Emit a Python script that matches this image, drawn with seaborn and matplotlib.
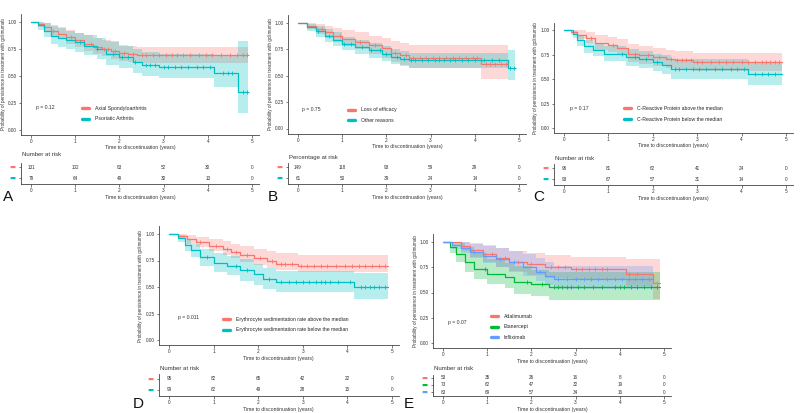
import numpy as np
import matplotlib
matplotlib.use("Agg")
import matplotlib.pyplot as plt
from matplotlib.lines import Line2D
import seaborn as sns

# ---- data ----
x_ticks = [0, 1, 2, 3, 4, 5]
y_ticks = [0.0, 0.25, 0.5, 0.75, 1.0]
y_ticklabels = ["0.00", "0.25", "0.50", "0.75", "1.00"]

RED = "#F8766D"
CYAN = "#00BFC4"
GREEN = "#00BA38"
BLUE = "#619CFF"

# A: Axial spondyloarthritis vs psoriatic arthritis
axial_t = [0, 0.15, 0.3, 0.45, 0.6, 0.8, 1.0, 1.2, 1.4, 1.6, 1.8, 2.0, 2.2, 2.4, 4.9]
axial_s = [1.0, 0.98, 0.95, 0.92, 0.89, 0.86, 0.83, 0.80, 0.77, 0.75, 0.73, 0.71, 0.70, 0.69, 0.69]
axial_lo = [1.0, 0.95, 0.91, 0.87, 0.84, 0.80, 0.77, 0.73, 0.70, 0.68, 0.66, 0.64, 0.63, 0.62, 0.62]
axial_hi = [1.0, 1.0, 0.99, 0.97, 0.95, 0.93, 0.90, 0.88, 0.85, 0.83, 0.81, 0.79, 0.78, 0.77, 0.77]
axial_cens = [0.5, 0.9, 1.35, 1.65, 1.75, 1.9, 2.1, 2.3, 2.5, 2.6, 2.75, 2.9, 3.05, 3.2,
              3.3, 3.45, 3.6, 3.8, 3.95, 4.1, 4.3, 4.5, 4.65, 4.8, 4.88]
psa_t = [0, 0.15, 0.3, 0.45, 0.6, 0.8, 1.0, 1.2, 1.5, 1.7, 2.0, 2.3, 2.5, 2.9, 4.15, 4.68, 4.9]
psa_s = [1.0, 0.97, 0.92, 0.87, 0.85, 0.83, 0.81, 0.78, 0.75, 0.70, 0.67, 0.63, 0.60, 0.58, 0.53, 0.35, 0.35]
psa_lo = [1.0, 0.93, 0.86, 0.80, 0.77, 0.75, 0.72, 0.69, 0.66, 0.60, 0.57, 0.53, 0.50, 0.48, 0.40, 0.15, 0.15]
psa_hi = [1.0, 1.0, 0.99, 0.96, 0.94, 0.92, 0.90, 0.88, 0.85, 0.82, 0.78, 0.75, 0.72, 0.70, 0.68, 0.82, 0.82]
psa_cens = [1.1, 1.5, 1.85, 2.05, 2.2, 2.35, 2.6, 2.7, 2.8, 3.0, 3.1, 3.25, 3.4, 3.55,
            3.75, 3.9, 4.05, 4.35, 4.45, 4.55, 4.8, 4.88]
risk_a = [[131, 102, 83, 52, 30, 0], [79, 64, 49, 30, 13, 0]]

# B: loss of efficacy vs other reasons
loe_t = [0, 0.2, 0.4, 0.6, 0.8, 1.0, 1.3, 1.6, 1.9, 2.1, 2.3, 2.5, 4.15, 4.75]
loe_s = [1.0, 0.97, 0.94, 0.91, 0.88, 0.85, 0.82, 0.79, 0.76, 0.72, 0.70, 0.67, 0.61, 0.61]
loe_lo = [1.0, 0.94, 0.90, 0.86, 0.82, 0.78, 0.75, 0.71, 0.67, 0.63, 0.60, 0.57, 0.47, 0.47]
loe_hi = [1.0, 1.0, 0.99, 0.97, 0.95, 0.93, 0.91, 0.88, 0.86, 0.83, 0.81, 0.79, 0.79, 0.79]
loe_cens = [0.55, 0.95, 1.4, 1.75, 2.2, 2.45, 2.6, 2.75, 2.9, 3.05, 3.2, 3.35, 3.5,
            3.65, 3.8, 3.95, 4.05, 4.25, 4.35, 4.45, 4.6, 4.7]
oth_t = [0, 0.2, 0.4, 0.6, 0.8, 1.0, 1.3, 1.6, 1.9, 2.1, 2.3, 2.5, 4.75, 4.9]
oth_s = [1.0, 0.96, 0.92, 0.88, 0.84, 0.80, 0.77, 0.74, 0.71, 0.68, 0.66, 0.645, 0.575, 0.575]
oth_lo = [1.0, 0.92, 0.87, 0.82, 0.78, 0.74, 0.71, 0.67, 0.64, 0.61, 0.59, 0.57, 0.46, 0.46]
oth_hi = [1.0, 0.99, 0.97, 0.94, 0.91, 0.87, 0.84, 0.81, 0.78, 0.75, 0.73, 0.72, 0.74, 0.74]
oth_cens = [0.45, 0.7, 1.05, 1.2, 1.45, 1.65, 1.85, 2.0, 2.25, 2.4, 2.55, 2.65, 2.8, 2.95,
            3.1, 3.2, 3.3, 3.45, 3.55, 3.7, 3.85, 4.0, 4.2, 4.4, 4.55, 4.8, 4.88]
risk_b = [[149, 118, 93, 59, 29, 0], [61, 50, 39, 24, 14, 0]]

# C: C-reactive protein above / below median
crp_up_t = [0, 0.15, 0.3, 0.5, 0.7, 1.0, 1.2, 1.45, 1.7, 2.0, 2.3, 2.5, 2.9, 4.9]
crp_up_s = [1.0, 0.98, 0.95, 0.92, 0.87, 0.85, 0.82, 0.76, 0.74, 0.72, 0.70, 0.69, 0.67, 0.67]
crp_up_lo = [1.0, 0.95, 0.91, 0.87, 0.80, 0.78, 0.74, 0.67, 0.65, 0.63, 0.61, 0.60, 0.58, 0.58]
crp_up_hi = [1.0, 1.0, 1.0, 0.98, 0.95, 0.93, 0.91, 0.86, 0.84, 0.82, 0.80, 0.79, 0.77, 0.77]
crp_up_cens = [0.6, 1.1, 1.6, 1.9, 2.15, 2.4, 2.55, 2.65, 2.75, 2.85, 3.0, 3.1, 3.3, 3.5,
               3.65, 3.8, 4.0, 4.15, 4.3, 4.45, 4.55, 4.65, 4.75, 4.85]
crp_dn_t = [0, 0.2, 0.3, 0.45, 0.65, 0.9, 1.4, 1.7, 2.0, 2.2, 2.4, 4.15, 4.9]
crp_dn_s = [1.0, 0.96, 0.90, 0.84, 0.80, 0.76, 0.72, 0.70, 0.67, 0.64, 0.60, 0.55, 0.55]
crp_dn_lo = [1.0, 0.92, 0.84, 0.77, 0.73, 0.68, 0.63, 0.61, 0.58, 0.55, 0.50, 0.44, 0.44]
crp_dn_hi = [1.0, 0.99, 0.95, 0.90, 0.87, 0.84, 0.81, 0.79, 0.76, 0.74, 0.70, 0.66, 0.66]
crp_dn_cens = [1.3, 1.6, 1.85, 2.1, 2.5, 2.6, 2.75, 2.9, 3.05, 3.2, 3.4, 3.55, 3.75, 3.9,
               4.05, 4.3, 4.45, 4.6, 4.75]
risk_c = [[96, 81, 62, 41, 24, 0], [93, 67, 57, 31, 14, 0]]

# D: erythrocyte sedimentation rate above / below median
esr_up_t = [0, 0.2, 0.4, 0.6, 0.9, 1.2, 1.4, 1.6, 1.9, 2.2, 2.4, 2.9, 4.9]
esr_up_s = [1.0, 0.98, 0.95, 0.92, 0.89, 0.86, 0.83, 0.80, 0.77, 0.75, 0.72, 0.70, 0.70]
esr_up_lo = [1.0, 0.95, 0.91, 0.88, 0.84, 0.80, 0.77, 0.74, 0.71, 0.68, 0.66, 0.64, 0.64]
esr_up_hi = [1.0, 1.0, 0.99, 0.97, 0.95, 0.93, 0.91, 0.89, 0.86, 0.84, 0.82, 0.80, 0.80]
esr_up_cens = [0.7, 1.05, 1.3, 1.5, 1.75, 2.05, 2.3, 2.5, 2.6, 2.75, 2.95, 3.1, 3.25,
               3.4, 3.55, 3.75, 3.95, 4.1, 4.25, 4.4, 4.55, 4.7, 4.85]
esr_dn_t = [0, 0.2, 0.35, 0.5, 0.7, 1.0, 1.3, 1.6, 1.9, 2.1, 2.4, 4.15, 4.9]
esr_dn_s = [1.0, 0.96, 0.90, 0.85, 0.78, 0.73, 0.70, 0.66, 0.62, 0.58, 0.55, 0.50, 0.50]
esr_dn_lo = [1.0, 0.92, 0.84, 0.78, 0.70, 0.64, 0.61, 0.56, 0.52, 0.48, 0.45, 0.39, 0.39]
esr_dn_hi = [1.0, 0.99, 0.95, 0.91, 0.86, 0.82, 0.79, 0.76, 0.72, 0.68, 0.65, 0.63, 0.63]
esr_dn_cens = [0.85, 1.5, 1.75, 2.25, 2.5, 2.7, 2.85, 3.0, 3.15, 3.3, 3.4, 3.5, 3.6,
               3.8, 4.05, 4.3, 4.4, 4.5, 4.6, 4.7, 4.85]
risk_d = [[95, 82, 65, 42, 22, 0], [99, 62, 49, 28, 15, 0]]

# E: previous biologic
ada_t = [0, 0.4, 0.6, 0.9, 1.2, 1.5, 1.9, 2.3, 2.9, 4.15, 4.75, 4.9]
ada_s = [1.0, 0.96, 0.92, 0.88, 0.84, 0.80, 0.78, 0.75, 0.73, 0.68, 0.59, 0.59]
ada_lo = [1.0, 0.91, 0.85, 0.80, 0.75, 0.70, 0.67, 0.64, 0.62, 0.56, 0.44, 0.44]
ada_hi = [1.0, 1.0, 0.99, 0.97, 0.94, 0.91, 0.89, 0.87, 0.85, 0.83, 0.83, 0.83]
ada_cens = [1.1, 1.4, 1.7, 2.0, 2.45, 2.6, 2.75, 3.0, 3.15, 3.3, 3.45, 3.6, 3.7, 4.2, 4.4, 4.85]
eta_t = [0, 0.15, 0.3, 0.5, 0.7, 1.0, 1.4, 1.6, 2.0, 2.4, 4.9]
eta_s = [1.0, 0.95, 0.88, 0.80, 0.73, 0.68, 0.65, 0.60, 0.58, 0.55, 0.55]
eta_lo = [1.0, 0.89, 0.80, 0.70, 0.63, 0.58, 0.54, 0.49, 0.47, 0.43, 0.43]
eta_hi = [1.0, 1.0, 0.99, 0.95, 0.89, 0.83, 0.79, 0.76, 0.72, 0.70, 0.70]
eta_cens = [0.95, 1.9, 2.25, 2.5, 2.6, 2.7, 2.8, 2.9, 3.05, 3.2, 3.4, 3.6, 3.9, 4.0,
            4.1, 4.25, 4.4, 4.55, 4.7, 4.85]
inf_t = [0, 0.2, 0.4, 0.6, 0.9, 1.2, 1.5, 1.8, 2.1, 2.3, 2.5, 4.75]
inf_s = [1.0, 0.97, 0.94, 0.90, 0.86, 0.83, 0.80, 0.75, 0.70, 0.66, 0.63, 0.63]
inf_lo = [1.0, 0.93, 0.89, 0.84, 0.79, 0.75, 0.71, 0.66, 0.61, 0.57, 0.53, 0.53]
inf_hi = [1.0, 1.0, 1.0, 0.98, 0.96, 0.94, 0.91, 0.88, 0.84, 0.80, 0.76, 0.76]
inf_cens = [0.7, 1.3, 1.6, 2.2, 2.6, 2.8, 3.0, 3.2, 3.35, 3.5, 3.7, 3.9, 4.05, 4.2,
            4.35, 4.5, 4.65]
risk_e = [[53, 35, 26, 16, 8, 0], [73, 62, 47, 32, 19, 0], [83, 69, 57, 34, 16, 0]]

# ---- style ----
sns.set_theme(style="ticks")
plt.rcParams['font.family'] = ['Liberation Sans', 'DejaVu Sans']
AX_COLOR = "#444444"
TXT = "#333333"

W, H = 800, 413
fig = plt.figure(figsize=(8, 4.13), dpi=100)
XL = (-0.226, 5.15)
YL = (-0.05, 1.075)


def px_axes(left, top, right, bottom):
    return fig.add_axes([left / W, 1 - bottom / H, (right - left) / W, (bottom - top) / H])


def style_axes(ax):
    sns.despine(ax=ax)
    for sp in ["left", "bottom"]:
        ax.spines[sp].set_color(AX_COLOR)
        ax.spines[sp].set_linewidth(0.6)
    ax.tick_params(colors=AX_COLOR, labelcolor=TXT, labelsize=3.4, length=1.8,
                   width=0.5, pad=1.2)
    ax.set_facecolor("none")


def km(ax, t, s, lo, hi, cens, color):
    ax.fill_between(t, lo, hi, step="post", color=color, alpha=0.28, lw=0)
    sns.lineplot(x=t, y=s, ax=ax, color=color, lw=0.9, drawstyle="steps-post",
                 estimator=None, sort=False)
    idx = np.searchsorted(t, cens, side="right") - 1
    cy = np.array(s)[idx]
    sns.scatterplot(x=cens, y=cy, ax=ax, color=color, marker="+", s=10,
                    linewidth=0.6, zorder=3)


def main_panel(x0, x5, y1, y0, curves, labels, colors, pval, ptxt, leg_xy):
    ppx = (x5 - x0) / 5
    ppy = y0 - y1
    ax = px_axes(x0 + XL[0] * ppx, y0 - YL[1] * ppy, x0 + XL[1] * ppx, y0 - YL[0] * ppy)
    for c, col in zip(curves, colors):
        km(ax, *c, col)
    ax.set_xlim(*XL)
    ax.set_ylim(*YL)
    ax.set_xticks(x_ticks)
    ax.set_yticks(y_ticks)
    ax.set_yticklabels(y_ticklabels)
    style_axes(ax)
    ax.set_xlabel("Time to discontinuation (years)", fontsize=3.7, color=TXT, labelpad=1)
    ax.set_ylabel("Probability of persistence in treatment with golimumab",
                  fontsize=3.3, color=TXT, labelpad=1.5)
    ax.text(ptxt[0], ptxt[1], "p = " + pval, fontsize=3.7, color=TXT, va="center")
    handles = [Line2D([], [], color=col, lw=2.4) for col in colors]
    ax.legend(handles, labels, loc="center left", bbox_to_anchor=leg_xy,
              bbox_transform=ax.transData, frameon=False, fontsize=3.7,
              handlelength=1.3, handletextpad=1.2, labelspacing=1.1, borderpad=0)
    return ax


def risk_table(x0, x5, top, bottom, risk, colors, header, header_y):
    ppx = (x5 - x0) / 5
    ax = px_axes(x0 + XL[0] * ppx, top, x0 + XL[1] * ppx, bottom)
    n = len(risk)
    for i, row in enumerate(risk):
        yy = n - i
        for xt, v in zip(x_ticks, row):
            ax.text(xt, yy, str(v), fontsize=3.3, color=TXT, ha="center", va="center")
    ax.set_xlim(*XL)
    ax.set_ylim(0.45, n + 0.4)
    ax.set_xticks(x_ticks)
    ax.set_yticks(list(range(n, 0, -1)))
    ax.set_yticklabels(["\u25ac"] * n)
    style_axes(ax)
    ax.tick_params(axis="y", length=1.5, pad=2.5, labelsize=4.6)
    for lab, col in zip(ax.get_yticklabels(), colors):
        lab.set_color(col)
        lab.set_family(['DejaVu Sans'])
    ax.set_xlabel("Time to discontinuation (years)", fontsize=3.7, color=TXT, labelpad=1)
    fig.text((x0 + XL[0] * ppx + 1) / W, 1 - header_y / H, header, fontsize=4.3,
             color=TXT, va="center")
    return ax


# Panel A
main_panel(31, 252, 22, 129.5,
           [(axial_t, axial_s, axial_lo, axial_hi, axial_cens),
            (psa_t, psa_s, psa_lo, psa_hi, psa_cens)],
           ["Axial Spondyloarthritis", "Psoriatic Arthritis"], [RED, CYAN],
           "0.12", (0.11, 0.2), (1.1, 0.148))
risk_table(31, 252, 163, 184, risk_a, [RED, CYAN], "Number at risk", 155)

# Panel B
main_panel(298, 519, 23, 128.5,
           [(loe_t, loe_s, loe_lo, loe_hi, loe_cens),
            (oth_t, oth_s, oth_lo, oth_hi, oth_cens)],
           ["Loss of efficacy", "Other reasons"], [RED, CYAN],
           "0.75", (0.09, 0.18), (1.08, 0.125))
risk_table(298, 519, 163, 184, risk_b, [RED, CYAN], "Percentage at risk", 158)

# Panel C
main_panel(564, 786, 30, 128,
           [(crp_up_t, crp_up_s, crp_up_lo, crp_up_hi, crp_up_cens),
            (crp_dn_t, crp_dn_s, crp_dn_lo, crp_dn_hi, crp_dn_cens)],
           ["C-Reactive Protein above the median", "C-Reactive Protein below the median"],
           [RED, CYAN], "0.17", (0.13, 0.2), (1.3, 0.145))
risk_table(564, 786, 164, 185, risk_c, [RED, CYAN], "Number at risk", 159)

# Panel D
main_panel(169, 392, 234, 340,
           [(esr_up_t, esr_up_s, esr_up_lo, esr_up_hi, esr_up_cens),
            (esr_dn_t, esr_dn_s, esr_dn_lo, esr_dn_hi, esr_dn_cens)],
           ["Erythrocyte sedimentation rate above the median",
            "Erythrocyte sedimentation rate below the median"],
           [RED, CYAN], "0.011", (0.2, 0.21), (1.15, 0.145))
risk_table(169, 392, 374, 396, risk_d, [RED, CYAN], "Number at risk", 368)

# Panel E
main_panel(443, 664, 242, 343,
           [(ada_t, ada_s, ada_lo, ada_hi, ada_cens),
            (eta_t, eta_s, eta_lo, eta_hi, eta_cens),
            (inf_t, inf_s, inf_lo, inf_hi, inf_cens)],
           ["Adalimumab", "Etanercept", "Infliximab"], [RED, GREEN, BLUE],
           "0.07", (0.11, 0.2), (1.03, 0.16))
risk_table(443, 664, 375, 396, risk_e, [RED, GREEN, BLUE], "Number at risk", 368)

# panel letters
for letter, lx, ly in [("A", 3, 197), ("B", 268, 197), ("C", 533, 197),
                       ("D", 133, 404), ("E", 404, 404)]:
    fig.text(lx / W, 1 - ly / H, letter, fontsize=11, color="#111111", va="center")

fig.savefig("out.png", dpi=100)
